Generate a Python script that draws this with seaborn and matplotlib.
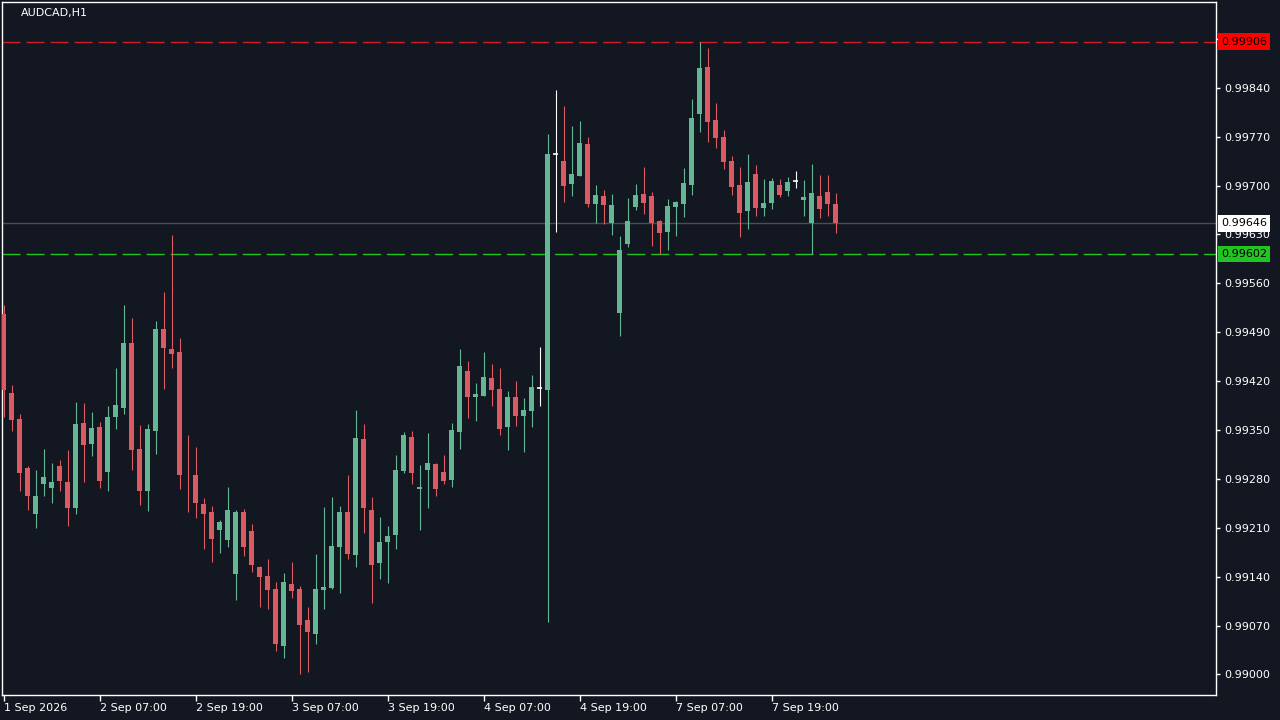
import numpy as np
import pandas as pd
import matplotlib
matplotlib.use('Agg')
import matplotlib.pyplot as plt
import seaborn as sns

# --- data ---
symbol = 'AUDCAD,H1'
time_labels = ['1 Sep 2026', '2 Sep 07:00', '2 Sep 19:00', '3 Sep 07:00', '3 Sep 19:00',
               '4 Sep 07:00', '4 Sep 19:00', '7 Sep 07:00', '7 Sep 19:00']
bars_per_label = 12

opens = [0.99516, 0.99403, 0.99366, 0.99296, 0.99230, 0.99273, 0.99267, 0.99298, 0.99276, 0.99239,
         0.99360, 0.99330, 0.99354, 0.99290, 0.99369, 0.99382, 0.99475, 0.99323, 0.99263, 0.99349,
         0.99495, 0.99466, 0.99462, 0.99289, 0.99286, 0.99244, 0.99233, 0.99207, 0.99193, 0.99144,
         0.99233, 0.99205, 0.99154, 0.99141, 0.99122, 0.99041, 0.99129, 0.99122, 0.99078, 0.99058,
         0.99121, 0.99124, 0.99182, 0.99233, 0.99171, 0.99337, 0.99235, 0.99159, 0.99190, 0.99200,
         0.99291, 0.99340, 0.99265, 0.99292, 0.99301, 0.99290, 0.99279, 0.99347, 0.99434, 0.99397,
         0.99399, 0.99424, 0.99409, 0.99354, 0.99397, 0.99370, 0.99377, 0.99410, 0.99407, 0.99745,
         0.99735, 0.99702, 0.99714, 0.99759, 0.99674, 0.99685, 0.99646, 0.99517, 0.99616, 0.99669,
         0.99688, 0.99685, 0.99649, 0.99633, 0.99669, 0.99674, 0.99701, 0.99802, 0.99870, 0.99794,
         0.99769, 0.99735, 0.99701, 0.99664, 0.99716, 0.99668, 0.99675, 0.99701, 0.99692, 0.99706,
         0.99679, 0.99646, 0.99685, 0.99691, 0.99674]
highs = [0.99529, 0.99414, 0.99373, 0.99298, 0.99293, 0.99323, 0.99303, 0.99307, 0.99321, 0.99390,
         0.99389, 0.99376, 0.99361, 0.99384, 0.99439, 0.99529, 0.99510, 0.99357, 0.99359, 0.99506,
         0.99548, 0.99629, 0.99482, 0.99343, 0.99326, 0.99253, 0.99241, 0.99221, 0.99268, 0.99235,
         0.99237, 0.99215, 0.99155, 0.99165, 0.99132, 0.99145, 0.99161, 0.99127, 0.99097, 0.99172,
         0.99240, 0.99254, 0.99241, 0.99286, 0.99379, 0.99359, 0.99254, 0.99225, 0.99213, 0.99314,
         0.99347, 0.99348, 0.99300, 0.99346, 0.99303, 0.99314, 0.99360, 0.99466, 0.99449, 0.99417,
         0.99462, 0.99444, 0.99439, 0.99406, 0.99420, 0.99396, 0.99429, 0.99469, 0.99774, 0.99837,
         0.99814, 0.99785, 0.99792, 0.99769, 0.99701, 0.99694, 0.99688, 0.99628, 0.99682, 0.99702,
         0.99726, 0.99691, 0.99650, 0.99681, 0.99678, 0.99725, 0.99824, 0.99906, 0.99897, 0.99818,
         0.99779, 0.99742, 0.99726, 0.99745, 0.99729, 0.99709, 0.99711, 0.99709, 0.99712, 0.99721,
         0.99708, 0.99731, 0.99715, 0.99715, 0.99689]
lows = [0.99369, 0.99348, 0.99263, 0.99236, 0.99209, 0.99256, 0.99245, 0.99263, 0.99213, 0.99230,
        0.99276, 0.99313, 0.99267, 0.99262, 0.99352, 0.99373, 0.99292, 0.99242, 0.99234, 0.99315,
        0.99409, 0.99439, 0.99265, 0.99232, 0.99224, 0.99179, 0.99161, 0.99174, 0.99183, 0.99106,
        0.99169, 0.99147, 0.99096, 0.99094, 0.99033, 0.99024, 0.99110, 0.99000, 0.99004, 0.99043,
        0.99094, 0.99122, 0.99117, 0.99166, 0.99154, 0.99202, 0.99103, 0.99136, 0.99131, 0.99180,
        0.99289, 0.99273, 0.99207, 0.99239, 0.99255, 0.99272, 0.99269, 0.99323, 0.99367, 0.99363,
        0.99398, 0.99384, 0.99343, 0.99321, 0.99356, 0.99319, 0.99354, 0.99384, 0.99075, 0.99634,
        0.99677, 0.99685, 0.99713, 0.99669, 0.99646, 0.99645, 0.99629, 0.99485, 0.99612, 0.99665,
        0.99659, 0.99613, 0.99602, 0.99608, 0.99628, 0.99655, 0.99686, 0.99777, 0.99762, 0.99754,
        0.99724, 0.99686, 0.99626, 0.99638, 0.99657, 0.99657, 0.99666, 0.99684, 0.99685, 0.99696,
        0.99657, 0.99602, 0.99653, 0.99657, 0.99632]
closes = [0.99407, 0.99365, 0.99289, 0.99255, 0.99256, 0.99283, 0.99276, 0.99277, 0.99239, 0.99359,
          0.99328, 0.99353, 0.99277, 0.99369, 0.99386, 0.99475, 0.99322, 0.99263, 0.99351, 0.99495,
          0.99468, 0.99459, 0.99286, 0.99288, 0.99245, 0.99230, 0.99194, 0.99218, 0.99235, 0.99233,
          0.99182, 0.99156, 0.99139, 0.99121, 0.99043, 0.99132, 0.99120, 0.99071, 0.99061, 0.99122,
          0.99125, 0.99184, 0.99233, 0.99173, 0.99339, 0.99239, 0.99156, 0.99190, 0.99198, 0.99293,
          0.99343, 0.99289, 0.99268, 0.99303, 0.99266, 0.99277, 0.99350, 0.99442, 0.99397, 0.99401,
          0.99426, 0.99407, 0.99351, 0.99397, 0.99370, 0.99379, 0.99411, 0.99410, 0.99745, 0.99745,
          0.99699, 0.99716, 0.99761, 0.99674, 0.99686, 0.99672, 0.99672, 0.99608, 0.99649, 0.99686,
          0.99675, 0.99646, 0.99632, 0.99671, 0.99676, 0.99704, 0.99797, 0.99868, 0.99791, 0.99768,
          0.99734, 0.99698, 0.99661, 0.99705, 0.99668, 0.99675, 0.99706, 0.99686, 0.99705, 0.99706,
          0.99684, 0.99689, 0.99666, 0.99674, 0.99646]

day_high = 0.99906
day_low = 0.99602
bid = 0.99646
price_ticks = [0.99000, 0.99070, 0.99140, 0.99210, 0.99280, 0.99350, 0.99420, 0.99490,
               0.99560, 0.99630, 0.99700, 0.99770, 0.99840, 0.99910]

# --- style ---
BG = '#131722'
UP = '#63b893'
DOWN = '#dd5a60'
sns.set_theme(style='dark', rc={'axes.facecolor': BG, 'figure.facecolor': BG,
                                'axes.edgecolor': 'white', 'text.color': 'white',
                                'xtick.color': 'white', 'ytick.color': 'white'})
plt.rcParams['font.family'] = ['DejaVu Sans']

df = pd.DataFrame({'open': opens, 'high': highs, 'low': lows, 'close': closes})
df['bar'] = np.arange(len(df))
df['color'] = np.where(df['close'] > df['open'], UP,
                       np.where(df['close'] < df['open'], DOWN, 'white'))

fig = plt.figure(figsize=(12.8, 7.2), dpi=100)
ax = fig.add_axes([2 / 1280, 25 / 720, 1214 / 1280, 693 / 720])

# price lines
ax.axhline(day_high, color='#d01c22', lw=1, dashes=(13, 4.3), zorder=1)
ax.axhline(day_low, color='#22c422', lw=1, dashes=(13, 4.3), zorder=1)
ax.axhline(bid, color='#4a4d57', lw=1, zorder=1)

# wicks
ax.vlines(df['bar'], df['low'], df['high'], colors=df['color'], lw=0.8, zorder=2)
# bodies
body = df[df['close'] != df['open']]
ax.bar(body['bar'], (body['close'] - body['open']).abs(),
       bottom=body[['open', 'close']].min(axis=1), width=0.62,
       color=body['color'], linewidth=0, zorder=3)
# doji crosses
doji = df[df['close'] == df['open']]
ax.hlines(doji['close'], doji['bar'] - 0.31, doji['bar'] + 0.31,
          colors=doji['color'], lw=1.2, zorder=3)

ax.set_xlim(-0.1875, 151.56)
ax.set_ylim(0.989706, 0.999627)

ax.set_xticks(np.arange(len(time_labels)) * bars_per_label)
ax.set_xticklabels(time_labels, ha='left', fontsize=8)
ax.yaxis.tick_right()
ax.set_yticks(price_ticks)
ax.set_yticklabels([f'{p:.5f}' for p in price_ticks], fontsize=8)
ax.tick_params(axis='x', direction='out', length=4, width=1, pad=2, bottom=True)
ax.tick_params(axis='y', direction='out', length=3, width=1, pad=3, right=True, left=False)
ax.grid(False)
for s in ax.spines.values():
    s.set_color('white')
    s.set_linewidth(1)

# price boxes on the right scale
for level, fc in [(day_high, '#ff0000'), (bid, 'white'), (day_low, '#22c422')]:
    ax.annotate(f'{level:.5f}', xy=(1, level), xycoords=ax.get_yaxis_transform(),
                xytext=(3.6, 0), textcoords='offset points', va='center', ha='left',
                fontsize=8, color='black', annotation_clip=False, zorder=10,
                bbox=dict(boxstyle='square,pad=0.3', fc=fc, ec='none'))

fig.text(21 / 1280, 1 - 13 / 720, symbol, color='white', fontsize=8, va='center', ha='left')

fig.savefig('out.png', dpi=100, facecolor=BG)
